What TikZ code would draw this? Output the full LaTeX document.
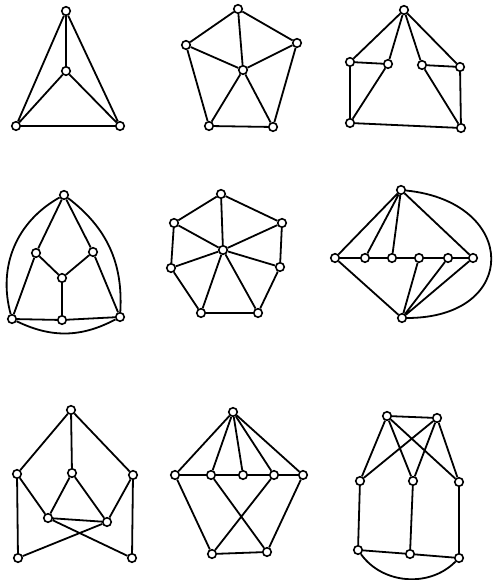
\documentclass[tikz,border=0pt]{standalone}
\usepackage{tikz}

\begin{document}
\begin{tikzpicture}[x=1pt, y=1pt, line width=1.8pt,
	vtx/.style={circle, draw, fill=white, inner sep=0pt, minimum size=8.5pt, line width=1.6pt}]
	\useasboundingbox (0,0) rectangle (492,580);
	
	% 图1
	\node[vtx] (a1) at (66,569) {};
	\node[vtx] (a2) at (66,509) {};
	\node[vtx] (a3) at (16,454) {};
	\node[vtx] (a4) at (120,454) {};
	\draw (a1) -- (a2) (a1) -- (a3) (a1) -- (a4) (a2) -- (a3) (a2) -- (a4) (a3) -- (a4);
	
	% 图2
	\node[vtx] (b1) at (238,571) {};
	\node[vtx] (b2) at (186,535) {};
	\node[vtx] (b3) at (297,537) {};
	\node[vtx] (b4) at (243,510) {};
	\node[vtx] (b5) at (209,454) {};
	\node[vtx] (b6) at (273,453) {};
	\draw (b1) -- (b2) (b1) -- (b3) (b1) -- (b4) (b2) -- (b4) (b3) -- (b4)
		(b2) -- (b5) (b3) -- (b6) (b5) -- (b6) (b4) -- (b5) (b4) -- (b6);
	
	% 图3
	\node[vtx] (c1) at (404,570) {};
	\node[vtx] (c2) at (350,518) {};
	\node[vtx] (c3) at (388,516) {};
	\node[vtx] (c4) at (422,515) {};
	\node[vtx] (c5) at (460,513) {};
	\node[vtx] (c6) at (350,457) {};
	\node[vtx] (c7) at (461,452) {};
	\draw (c1) -- (c2) (c1) -- (c3) (c1) -- (c4) (c1) -- (c5) (c2) -- (c3) (c4) -- (c5)
		(c2) -- (c6) (c5) -- (c7) (c3) -- (c6) (c4) -- (c7) (c6) -- (c7);
	
	% 图4
	\node[vtx] (d1) at (64,385) {};
	\node[vtx] (d2) at (36,327) {};
	\node[vtx] (d3) at (93,328) {};
	\node[vtx] (d4) at (62,302) {};
	\node[vtx] (d5) at (12,261) {};
	\node[vtx] (d6) at (62,260) {};
	\node[vtx] (d7) at (120,263) {};
	\draw (d1) -- (d2) (d1) -- (d3) (d2) -- (d4) (d3) -- (d4) (d4) -- (d6)
		(d2) -- (d5) (d3) -- (d7) (d5) -- (d6) (d6) -- (d7);
	\draw (d1) to[bend right=38] (d5);
	\draw (d1) to[bend left=28] (d7);
	\draw (d5) to[bend right=27] (d7);
	
	% 图5 轮
	\node[vtx] (e0) at (223,330) {};
	\node[vtx] (e1) at (221,386) {};
	\node[vtx] (e2) at (282,357) {};
	\node[vtx] (e3) at (280,313) {};
	\node[vtx] (e4) at (258,267) {};
	\node[vtx] (e5) at (201,267) {};
	\node[vtx] (e6) at (171,312) {};
	\node[vtx] (e7) at (174,357) {};
	\foreach \i in {1,...,7} \draw (e0) -- (e\i);
	\draw (e1) -- (e2) -- (e3) -- (e4) -- (e5) -- (e6) -- (e7) -- (e1);
	
	% 图6
	\node[vtx] (f0) at (401,390) {};
	\node[vtx] (f1) at (335,322) {};
	\node[vtx] (f2) at (365,322) {};
	\node[vtx] (f3) at (392,322) {};
	\node[vtx] (f4) at (419,322) {};
	\node[vtx] (f5) at (448,322) {};
	\node[vtx] (f6) at (473,322) {};
	\node[vtx] (f7) at (402,262) {};
	\draw (f1) -- (f2) -- (f3) -- (f4) -- (f5) -- (f6);
	\draw (f0) -- (f1) (f0) -- (f2) (f0) -- (f3) (f0) -- (f6);
	\draw (f7) -- (f1) (f7) -- (f4) (f7) -- (f5) (f7) -- (f6);
	\draw (f0) .. controls +(118,-12) and +(118,0) .. (f7);
	
	% 图7
	\node[vtx] (g1) at (71,170) {};
	\node[vtx] (g2) at (17,106) {};
	\node[vtx] (g3) at (72,107) {};
	\node[vtx] (g4) at (133,105) {};
	\node[vtx] (g5) at (48,62) {};
	\node[vtx] (g6) at (107,58) {};
	\node[vtx] (g7) at (18,22) {};
	\node[vtx] (g8) at (132,22) {};
	\draw (g1) -- (g2) (g1) -- (g3) (g1) -- (g4) (g3) -- (g5) (g3) -- (g6) (g5) -- (g6)
		(g2) -- (g5) (g4) -- (g6) (g2) -- (g7) (g4) -- (g8) (g5) -- (g8) (g6) -- (g7);
	
	% 图8
	\node[vtx] (h0) at (233,168) {};
	\node[vtx] (h1) at (175,105) {};
	\node[vtx] (h2) at (211,105) {};
	\node[vtx] (h3) at (243,105) {};
	\node[vtx] (h4) at (274,105) {};
	\node[vtx] (h5) at (303,105) {};
	\node[vtx] (h6) at (212,26) {};
	\node[vtx] (h7) at (267,28) {};
	\foreach \i in {1,...,5} \draw (h0) -- (h\i);
	\draw (h1) -- (h2) -- (h3) -- (h4) -- (h5);
	\draw (h1) -- (h6) (h5) -- (h7) (h6) -- (h7) (h2) -- (h7) (h4) -- (h6);
	
	% 图9
	\node[vtx] (k1) at (387,164) {};
	\node[vtx] (k2) at (437,162) {};
	\node[vtx] (k3) at (360,99) {};
	\node[vtx] (k4) at (413,99) {};
	\node[vtx] (k5) at (459,98) {};
	\node[vtx] (k6) at (358,30) {};
	\node[vtx] (k7) at (410,26) {};
	\node[vtx] (k8) at (459,22) {};
	\draw (k1) -- (k2) (k1) -- (k3) (k1) -- (k4) (k1) -- (k5) (k2) -- (k3) (k2) -- (k4) (k2) -- (k5)
		(k3) -- (k6) (k4) -- (k7) (k5) -- (k8) (k6) -- (k7) (k7) -- (k8);
	\draw (k6) to[bend right=50] (k8);
\end{tikzpicture}
\end{document}
